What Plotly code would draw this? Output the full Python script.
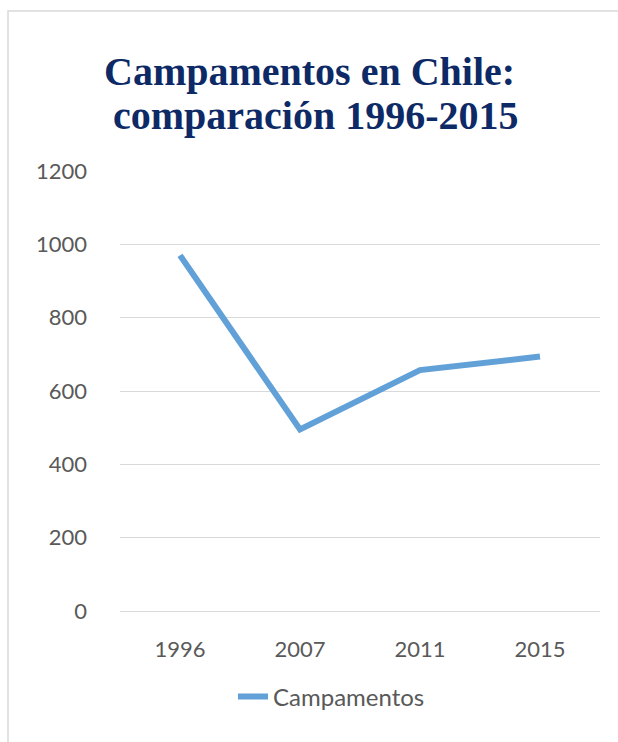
import plotly.graph_objects as go

years = ["1996", "2007", "2011", "2015"]
campamentos = [970, 495, 657, 694]
y_ticks = [0, 200, 400, 600, 800, 1000, 1200]
title_lines = ["<b>Campamentos en Chile:</b>", "<b>comparación 1996-2015</b>"]

W, H = 618, 742
L, R, T, B = 120, 18, 171, 131
pw, ph = W - L - R, H - T - B

def px(x):
    return (x - L) / pw

def py(y):
    return (H - B - y) / ph

fig = go.Figure()
fig.add_trace(go.Scatter(
    x=years, y=campamentos, mode="lines", name="Campamentos",
    line=dict(color="#62a0d8", width=6),
))

title_font = dict(family="Liberation Serif", size=40, color="#0d2a66")
annotations = [
    dict(text=title_lines[0], xref="paper", yref="paper", x=px(309), y=py(72),
         xanchor="center", yanchor="middle", showarrow=False, font=title_font),
    dict(text=title_lines[1], xref="paper", yref="paper", x=px(316), y=py(115),
         xanchor="center", yanchor="middle", showarrow=False, font=title_font),
]

fig.update_layout(
    width=W, height=H,
    margin=dict(l=L, r=R, t=T, b=B),
    paper_bgcolor="white", plot_bgcolor="white",
    font=dict(family="Lato", size=22, color="#595959"),
    xaxis=dict(
        type="category", range=[-0.5, 3.5], showgrid=False, showline=False,
        zeroline=False, ticks="", ticklabelstandoff=23,
        tickfont=dict(family="Lato", size=22, color="#595959"),
    ),
    yaxis=dict(
        range=[0, 1200], tickvals=y_ticks, showgrid=True, gridcolor="#d9d9d9",
        gridwidth=1, zeroline=True, zerolinecolor="#d9d9d9", zerolinewidth=1,
        showline=False, ticks="", ticklabelstandoff=32,
        tickfont=dict(family="Lato", size=22, color="#595959"),
    ),
    showlegend=True,
    legend=dict(
        orientation="h", x=px(233), xanchor="left", y=py(697), yanchor="middle",
        font=dict(family="Lato", size=24, color="#595959"),
        bgcolor="rgba(0,0,0,0)",
    ),
    annotations=annotations,
    shapes=[dict(
        type="rect", xref="paper", yref="paper",
        x0=px(8), x1=px(640), y0=py(760), y1=py(11),
        line=dict(color="#d9d9d9", width=1.5), fillcolor="rgba(0,0,0,0)",
        layer="below",
    )],
)

fig.write_html(
    "out.html",
    config={"displayModeBar": False},
    post_script="document.body.style.margin='0';document.body.style.overflow='hidden';",
)
